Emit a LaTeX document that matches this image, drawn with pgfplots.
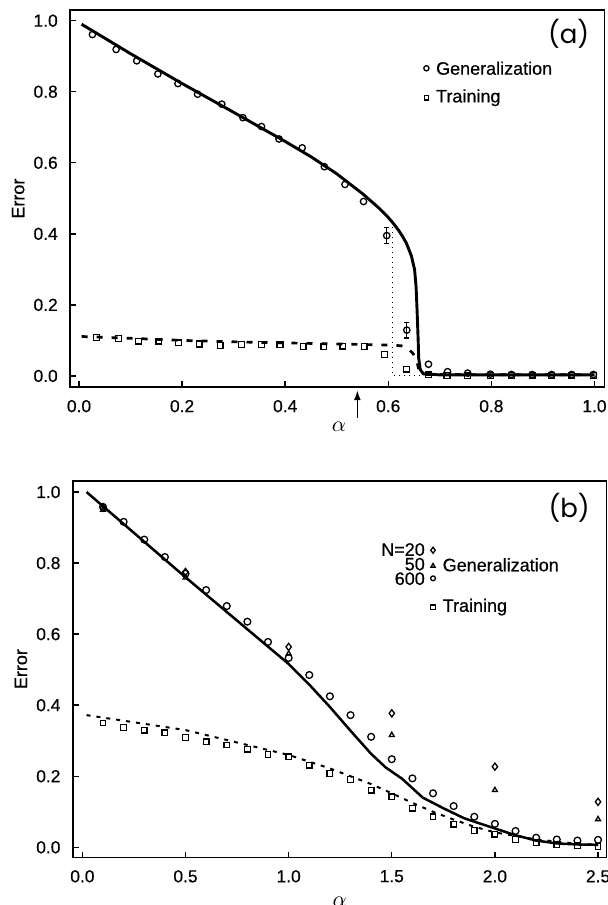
\documentclass[border=0pt]{standalone}
\usepackage{pgfplots}
\pgfplotsset{compat=1.18}
\usepackage{fontspec}
\setmainfont{Liberation Sans}[FakeBold=0.5]
\newfontfamily\panelfont{Poppins}
\usetikzlibrary{arrows.meta}

\tikzset{lbl/.style={font=\fontsize{9}{9}\selectfont,inner sep=0pt}}
\pgfplotsset{
  errplot/.style={
    scale only axis, anchor=north west,
    tick pos=left, tick align=inside, major tick length=3pt,
    axis line style={line width=0.85pt},
    every tick/.style={black,line width=0.7pt},
    font=\fontsize{8.7}{10}\selectfont,
    /pgf/number format/assume math mode=true,
    ticklabel style={/pgf/number format/fixed,/pgf/number format/fixed zerofill,/pgf/number format/precision=1},
    xticklabel style={yshift=-2.8pt},
    yticklabel style={xshift=-2.6pt},
    ylabel={Error},
    ylabel style={at={(axis description cs:-0.097,0.5)},anchor=center,font=\fontsize{9}{10}\selectfont},
    xlabel={$\alpha$},
    xlabel style={font=\fontsize{11}{12}\selectfont},
    clip=false,
  },
  mk/.style={only marks,mark options={line width=0.65pt,fill=white}},
}

\begin{document}
\begin{tikzpicture}
% ---------- panel (a)
\begin{axis}[errplot,at={(35pt,-5pt)},width=267.25pt,height=188.65pt,
  xmin=-0.0175,xmax=1.0195,ymin=-0.032,ymax=1.030,
  xtick={0,0.2,0.4,0.6,0.8,1.0},ytick={0,0.2,0.4,0.6,0.8,1.0},
  xlabel style={at={(axis description cs:0.503,-0.105)},anchor=center}]
% theory, generalization
\addplot[line width=1.45pt,black] coordinates {
 (0.005,0.990)(0.1,0.907)(0.2,0.823)(0.3,0.742)(0.4,0.660)(0.45,0.617)
 (0.5,0.569)(0.55,0.513)(0.58,0.475)(0.59,0.461)(0.60,0.446)(0.61,0.429)
 (0.62,0.410)(0.628,0.392)(0.635,0.374)(0.64,0.356)(0.645,0.337)(0.648,0.318)
 (0.651,0.300)(0.654,0.25)(0.656,0.18)(0.658,0.10)(0.659,0.05)(0.662,0.018)
 (0.668,0.006)(0.7,0.003)(1.0,0.003)};
% theory, training
\addplot[line width=1.35pt,black,dash pattern=on 3pt off 4.5pt] coordinates {
 (0.005,0.111)(0.1,0.106)(0.2,0.100)(0.3,0.096)(0.4,0.093)(0.5,0.090)
 (0.6,0.087)(0.625,0.085)(0.64,0.075)(0.648,0.063)(0.655,0.045)(0.66,0.012)
 (0.67,0.004)(1.0,0.003)};
% dotted guide
\addplot[line width=0.5pt,black,dotted] coordinates {(0.608,0.418)(0.608,0)(0.662,0)};
% simulations
\addplot[mk,mark=square,mark size=1.45pt] coordinates {
 (0.034,0.108)(0.077,0.105)(0.115,0.098)(0.155,0.098)(0.193,0.093)(0.233,0.090)
 (0.274,0.086)(0.315,0.089)(0.354,0.088)(0.390,0.088)(0.435,0.083)(0.475,0.082)
 (0.512,0.084)(0.553,0.083)(0.593,0.061)(0.635,0.019)(0.678,0.003)(0.714,0.001)
 (0.754,0.0)(0.798,0.001)(0.839,0.001)(0.879,0.001)(0.917,0.001)(0.956,0.001)(0.998,0.001)};
\addplot[mk,mark=o,mark size=1.6pt] coordinates {
 (0.026,0.961)(0.072,0.919)(0.112,0.887)(0.153,0.850)(0.192,0.823)(0.230,0.793)
 (0.277,0.765)(0.318,0.727)(0.354,0.702)(0.388,0.667)(0.433,0.642)(0.476,0.589)
 (0.516,0.539)(0.552,0.491)(0.678,0.033)(0.715,0.012)(0.754,0.008)(0.798,0.005)
 (0.839,0.004)(0.879,0.004)(0.917,0.004)(0.956,0.004)(0.998,0.004)};
\addplot[mk,mark=o,mark size=1.6pt,black,
  error bars/.cd,y dir=both,y explicit,error bar style={line width=0.6pt},
  error mark options={line width=0.6pt,mark size=1.3pt,rotate=90}] coordinates {
 (0.597,0.395)+-(0,0.022)(0.636,0.129)+-(0,0.022)};
% legend
\addplot[mk,mark=o,mark size=1.3pt] coordinates {(0.674,0.866)};
\addplot[mk,mark=square,mark size=1.1pt] coordinates {(0.674,0.783)};
\node[lbl,anchor=west] at (axis cs:0.692,0.866) {Generalization};
\node[lbl,anchor=west] at (axis cs:0.692,0.783) {Training};
\node[font=\panelfont\fontsize{13}{14}\selectfont] at (axis cs:0.95,0.963) {(a)};
% arrow
\draw[line width=0.8pt,-{Latex[length=5pt,width=3.5pt]}] (axis cs:0.54,-0.118) -- (axis cs:0.54,-0.040);
\end{axis}

% ---------- panel (b)
\begin{axis}[errplot,at={(36.35pt,-240.35pt)},width=266.9pt,height=188.4pt,
  xmin=-0.047,xmax=2.541,ymin=-0.0287,ymax=1.0318,
  xtick={0,0.5,1.0,1.5,2.0,2.5},ytick={0,0.2,0.4,0.6,0.8,1.0},
  xlabel style={at={(axis description cs:0.5,-0.118)},anchor=center}]
\addplot[line width=1.25pt,black] coordinates {
 (0.02,1.0)(0.5,0.760)(1.0,0.516)(1.1,0.458)(1.2,0.395)(1.3,0.328)(1.4,0.263)
 (1.47,0.225)(1.55,0.193)(1.65,0.140)(1.75,0.110)(1.85,0.082)(2.0,0.053)
 (2.1,0.034)(2.2,0.019)(2.3,0.011)(2.4,0.008)(2.5,0.007)};
\addplot[line width=1pt,black,dash pattern=on 2pt off 3pt] coordinates {
 (0.02,0.372)(0.5,0.330)(1.0,0.260)(1.2,0.222)(1.4,0.178)(1.5,0.152)(1.6,0.125)
 (1.7,0.100)(1.8,0.078)(1.9,0.058)(2.0,0.042)(2.2,0.022)(2.4,0.010)(2.5,0.007)};
% training
\addplot[mk,mark=square,mark size=1.4pt] coordinates {
 (0.1,0.350)(0.2,0.337)(0.3,0.330)(0.4,0.322)(0.5,0.309)(0.6,0.297)(0.7,0.288)
 (0.8,0.276)(0.9,0.261)(1.0,0.255)(1.1,0.231)(1.2,0.208)(1.3,0.191)(1.4,0.161)
 (1.5,0.142)(1.6,0.110)(1.7,0.086)(1.8,0.065)(1.9,0.047)(2.0,0.037)(2.1,0.022)
 (2.2,0.013)(2.3,0.007)(2.4,0.004)(2.5,0.002)};
% N=600
\addplot[mk,mark=o,mark size=1.7pt] coordinates {
 (0.1,0.958)(0.2,0.916)(0.3,0.866)(0.4,0.817)(0.5,0.770)(0.6,0.724)(0.7,0.679)
 (0.8,0.635)(0.9,0.578)(1.0,0.533)(1.1,0.485)(1.2,0.425)(1.3,0.372)(1.4,0.311)
 (1.5,0.248)(1.6,0.194)(1.7,0.152)(1.8,0.116)(1.9,0.086)(2.0,0.066)(2.1,0.046)
 (2.2,0.027)(2.3,0.022)(2.4,0.019)(2.5,0.021)};
% N=50
\addplot[mk,mark=triangle,mark size=1.4pt] coordinates {
 (0.1,0.950)(0.5,0.759)(1.0,0.545)(1.5,0.316)(2.0,0.161)(2.5,0.079)};
% N=20
\addplot[mk,mark=diamond,mark size=1.8pt] coordinates {
 (0.1,0.956)(0.5,0.775)(1.0,0.564)(1.5,0.377)(2.0,0.227)(2.5,0.128)};
% legend
\addplot[mk,mark=diamond,mark size=1.5pt] coordinates {(1.70,0.836)};
\addplot[mk,mark=triangle,mark size=1.2pt] coordinates {(1.70,0.792)};
\addplot[mk,mark=o,mark size=1.2pt] coordinates {(1.70,0.757)};
\addplot[mk,mark=square,mark size=1.1pt] coordinates {(1.70,0.676)};
\node[lbl,anchor=east] at (axis cs:1.662,0.838) {N=20};
\node[lbl,anchor=east] at (axis cs:1.662,0.797) {50};
\node[lbl,anchor=east] at (axis cs:1.662,0.756) {600};
\node[lbl,anchor=west] at (axis cs:1.745,0.795) {Generalization};
\node[lbl,anchor=west] at (axis cs:1.745,0.676) {Training};
\node[font=\panelfont\fontsize{13}{14}\selectfont] at (axis cs:2.36,0.955) {(b)};
\end{axis}

\pgfresetboundingbox
\path[use as bounding box] (0,0) rectangle (304pt,-452.5pt);
\end{tikzpicture}
\end{document}
